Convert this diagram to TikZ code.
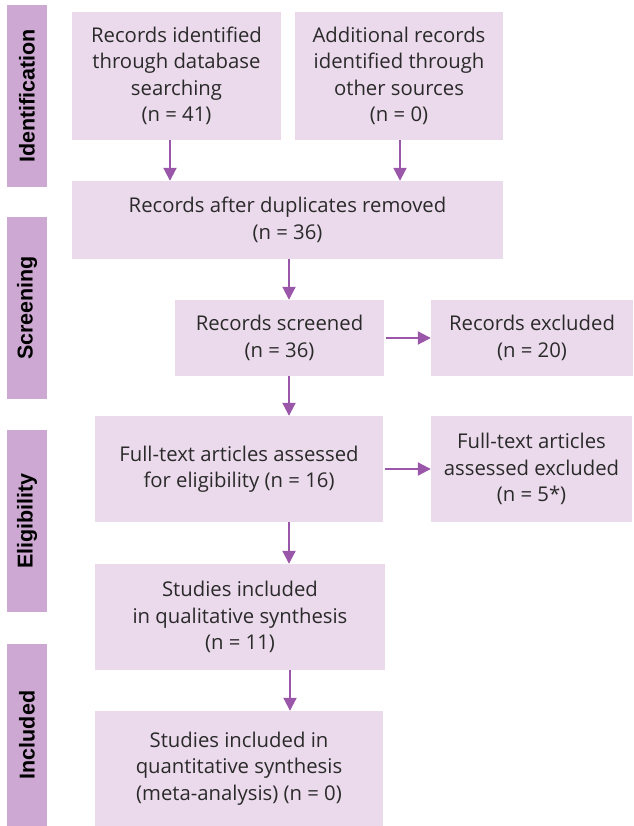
\documentclass[tikz,border=0pt]{standalone}
\usepackage{fontspec}
\setmainfont{Open Sans}
\newfontfamily\tabfont{Liberation Sans}
\usetikzlibrary{arrows.meta}
\definecolor{boxfill}{HTML}{EBDAEC}
\definecolor{tabfill}{HTML}{CDA8D2}
\definecolor{flowcol}{HTML}{9A56A8}
\definecolor{txtcol}{HTML}{2A2A2A}
\begin{document}
\begin{tikzpicture}[x=1pt,y=-1pt,
  stagebox/.style={fill=boxfill, inner sep=0pt, align=center, text=txtcol,
    font=\fontsize{20.3}{26.5}\selectfont},
  phasetab/.style={fill=tabfill, inner sep=0pt, minimum width=40pt,
    text=black, font=\tabfont\fontsize{21.5}{22}\selectfont\bfseries},
  flow/.style={draw=flowcol, line width=2pt,
    -{Triangle[width=13pt,length=13pt]}}]
\useasboundingbox (0,0) rectangle (633,826);

% phase tabs on the left
\node[phasetab, minimum height=182pt] (tid) at (27,96)
  {\rotatebox{90}{Identification}};
\node[phasetab, minimum height=182pt] (tsc) at (27,308)
  {\rotatebox{90}{Screening}};
\node[phasetab, minimum height=182pt] (tel) at (27,521)
  {\rotatebox{90}{Eligibility}};
\node[phasetab, minimum height=182pt] (tin) at (27,735)
  {\rotatebox{90}{Included}};

% flow boxes
\node[stagebox, minimum width=209pt, minimum height=128pt] (db) at (176.5,76)
  {Records identified\\through database\\searching\\(n = 41)};
\node[stagebox, minimum width=208pt, minimum height=128pt] (other) at (399,76)
  {Additional records\\identified through\\other sources\\(n = 0)};
\node[stagebox, minimum width=431pt, minimum height=78pt] (dup) at (287.5,220)
  {Records after duplicates removed\\(n = 36)};
\node[stagebox, minimum width=209pt, minimum height=76pt] (scr) at (279.5,338)
  {Records screened\\(n = 36)};
\node[stagebox, minimum width=202pt, minimum height=76pt] (exc) at (532,338)
  {Records excluded\\(n = 20)};
\node[stagebox, minimum width=288pt, minimum height=106pt] (full) at (239,469)
  {Full-text articles assessed\\for eligibility (n = 16)};
\node[stagebox, minimum width=201pt, minimum height=106pt] (fexc) at (531.5,469)
  {Full-text articles\\assessed excluded\\(n = 5*)};
\node[stagebox, minimum width=290pt, minimum height=106pt] (qual) at (240,617)
  {Studies included\\in qualitative synthesis\\(n = 11)};
\node[stagebox, minimum width=288pt, minimum height=115pt] (quant) at (239,768.5)
  {Studies included in\\quantitative synthesis\\(meta-analysis) (n = 0)};

% connectors
\draw[flow] (db.south -| 170,0) -- (dup.north -| 170,0);
\draw[flow] (other.south -| 400,0) -- (dup.north -| 400,0);
\draw[flow] (dup.south -| 289,0) -- (scr.north -| 289,0);
\draw[flow] ([xshift=2pt]scr.east) -- (exc.west);
\draw[flow] (scr.south -| 289,0) -- (full.north -| 289,0);
\draw[flow] ([xshift=2pt]full.east) -- (fexc.west);
\draw[flow] (full.south -| 289,0) -- (qual.north -| 289,0);
\draw[flow] (qual.south -| 290,0) -- (quant.north -| 290,0);
\end{tikzpicture}
\end{document}
